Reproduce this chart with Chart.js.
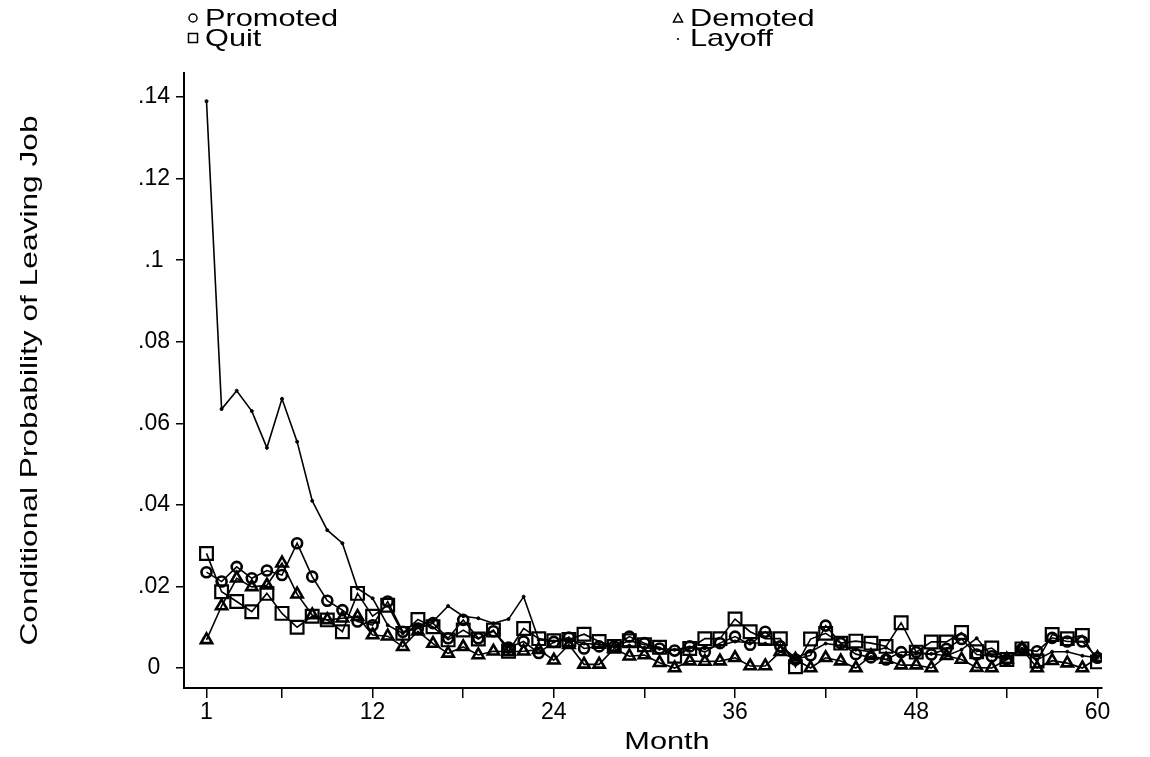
<!DOCTYPE html>
<html><head><meta charset="utf-8">
<script src="https://cdn.jsdelivr.net/npm/chart.js@4"></script>
<style>
html,body{margin:0;padding:0;background:#fff;}
#wrap{position:relative;width:1150px;height:757px;overflow:hidden;}
#c{position:absolute;left:0;top:0;}
.leg{position:absolute;font-family:"Liberation Sans",Arial,sans-serif;font-size:24px;color:#000;line-height:20px;white-space:nowrap;height:20px;}
.leg svg{position:absolute;left:0;top:3px;}
.leg span{position:absolute;left:18px;top:0;transform:scaleX(1.28);transform-origin:0 50%;}
</style></head><body>
<div id="wrap"><canvas id="c" width="1150" height="757"></canvas></div>
<script>
const months = [1,2,3,4,5,6,7,8,9,10,11,12,13,14,15,16,17,18,19,20,21,22,23,24,25,26,27,28,29,30,31,32,33,34,35,36,37,38,39,40,41,42,43,44,45,46,47,48,49,50,51,52,53,54,55,56,57,58,59,60];
const promoted = [.0235,.0212,.0248,.0220,.0239,.0228,.0306,.0224,.0165,.0142,.0114,.0105,.0163,.0089,.0097,.0110,.0073,.0118,.0073,.0090,.0050,.0065,.0037,.0064,.0075,.0048,.0053,.0053,.0077,.0061,.0048,.0043,.0053,.0039,.0061,.0077,.0057,.0089,.0053,.0021,.0031,.0104,.0061,.0034,.0026,.0021,.0039,.0039,.0033,.0047,.0071,.0033,.0029,.0021,.0047,.0041,.0074,.0065,.0065,.0025];
const demoted = [.0069,.0152,.0220,.0199,.0203,.0257,.0181,.0130,.0118,.0122,.0126,.0081,.0078,.0052,.0090,.0060,.0036,.0052,.0032,.0041,.0040,.0041,.0045,.0019,.0057,.0009,.0009,.0048,.0029,.0032,.0013,.0000,.0017,.0016,.0017,.0025,.0005,.0005,.0040,.0021,.0000,.0025,.0017,.0000,.0030,.0021,.0007,.0007,.0000,.0030,.0021,.0001,.0000,.0021,.0047,.0000,.0018,.0012,.0000,.0025];
const quit = [.0281,.0187,.0163,.0138,.0183,.0134,.0100,.0127,.0118,.0089,.0183,.0127,.0154,.0085,.0119,.0101,.0069,.0093,.0071,.0093,.0041,.0097,.0072,.0067,.0070,.0083,.0065,.0053,.0067,.0057,.0051,.0029,.0048,.0072,.0072,.0120,.0089,.0072,.0072,.0003,.0071,.0085,.0061,.0066,.0061,.0053,.0111,.0039,.0064,.0064,.0087,.0040,.0049,.0021,.0047,.0017,.0082,.0072,.0080,.0015];
const layoff = [.139,.0635,.068,.063,.054,.066,.0555,.041,.0338,.0306,.0195,.0171,.0105,.0085,.0105,.0114,.0152,.0127,.0122,.0110,.0120,.0175,.0069,.0065,.0068,.0060,.0058,.0052,.0055,.0050,.0047,.0045,.0050,.0048,.0055,.0065,.0062,.0060,.0055,.0025,.0040,.0060,.0055,.0045,.0040,.0050,.0030,.0035,.0035,.0030,.0045,.0073,.0030,.0025,.0047,.0020,.0040,.0040,.0030,.0025];
const seriesNames = ['Promoted','Demoted','Quit','Layoff'];
const xTickValues = [1,6,12,18,24,30,36,42,48,54,60];
const xTickLabels = ['1','','12','','24','','36','','48','','60'];
const yTickValues = [0,.02,.04,.06,.08,.1,.12,.14];
const yTickLabels = ['0','.02','.04','.06','.08','.1','.12','.14'];
const xTitle = 'Month';
const yTitle = 'Conditional Probability of Leaving Job';

const FONT = '"Liberation Sans", Arial, sans-serif';
const X_TITLE_STRETCH = 1.28, Y_TITLE_STRETCH = 1.32;
const pts = arr => months.map((m,i)=>({x:m,y:arr[i]}));
const base = {borderColor:'#000',borderWidth:1.6,pointBorderColor:'#000',pointBackgroundColor:'rgba(0,0,0,0)',fill:false,tension:0};
const styles = [
  {pointStyle:'circle',pointRadius:5,pointBorderWidth:2.6},
  {pointStyle:'triangle',pointRadius:6.5,pointBorderWidth:2.6},
  {pointStyle:'rect',pointRadius:9,pointBorderWidth:2.2},
  {pointStyle:'circle',pointRadius:1.5,pointBorderWidth:1,pointBackgroundColor:'#000'}
];
const dataArr = [promoted,demoted,quit,layoff];
const datasets = dataArr.map((a,i)=>Object.assign({label:seriesNames[i],data:pts(a)},base,styles[i]));

// stretch axis titles along their text direction (reference font is wide)
const stretchTitles = {
  id:'stretchTitles',
  beforeDraw(chart){
    const sx = chart.scales.x, sy = chart.scales.y;
    if(!sx._stretched){
      const o = sx.drawTitle;
      sx.drawTitle = function(){
        const ctx=this.ctx, cx=(this.left+this.right)/2;
        ctx.save(); ctx.translate(cx+24,0); ctx.scale(X_TITLE_STRETCH,1); ctx.translate(-cx,0);
        o.call(this); ctx.restore();
      };
      sx._stretched = true;
    }
    if(!sy._stretched){
      const o = sy.drawTitle;
      sy.drawTitle = function(){
        const ctx=this.ctx, cy=(this.top+this.bottom)/2;
        ctx.save(); ctx.translate(0,cy); ctx.scale(1,Y_TITLE_STRETCH); ctx.translate(0,-cy);
        o.call(this); ctx.restore();
      };
      sy._stretched = true;
    }
  }
};

new Chart(document.getElementById('c'),{
  type:'line',
  data:{datasets},
  plugins:[stretchTitles],
  options:{
    responsive:false,animation:false,
    layout:{padding:{top:73,right:48,bottom:0,left:0}},
    plugins:{legend:{display:false},tooltip:{enabled:false}},
    scales:{
      x:{type:'linear',min:-0.49,max:60.30,
        afterBuildTicks:s=>{s.ticks=xTickValues.map(v=>({value:v}));},
        afterFit:s=>{s.height=69;},
        ticks:{autoSkip:false,maxRotation:0,padding:1,color:'#000',font:{family:FONT,size:23},
          callback:v=>{const i=xTickValues.indexOf(v);return i>=0?xTickLabels[i]:'';}},
        grid:{drawOnChartArea:false,drawTicks:true,tickLength:10,color:'#000',lineWidth:1.5},
        border:{display:true,color:'#000',width:2},
        title:{display:true,text:xTitle,color:'#000',font:{family:FONT,size:24},padding:{top:0,bottom:0}}
      },
      y:{type:'linear',min:-0.0049,max:0.1459,
        afterBuildTicks:s=>{s.ticks=yTickValues.map(v=>({value:v}));},
        afterFit:s=>{s.width=184;},
        ticks:{crossAlign:'center',padding:6,color:'#000',font:{family:FONT,size:23},
          callback:v=>{const i=yTickValues.findIndex(t=>Math.abs(t-v)<1e-9);return i>=0?yTickLabels[i]:'';}},
        grid:{drawOnChartArea:false,drawTicks:true,tickLength:8,color:'#000',lineWidth:1.5},
        border:{display:true,color:'#000',width:2},
        title:{display:true,text:yTitle,color:'#000',font:{family:FONT,size:24},padding:{top:16,bottom:0}}
      }
    }
  }
});

// legend (HTML text)
const legPos = [[187,8],[672,8],[187,28],[672,28]];
const sym = [
  '<svg width="12" height="14"><circle cx="6" cy="7" r="4" fill="none" stroke="#000" stroke-width="1.5"/></svg>',
  '<svg width="12" height="14"><polygon points="6,2.5 10.5,11 1.5,11" fill="none" stroke="#000" stroke-width="1.5"/></svg>',
  '<svg width="12" height="14"><rect x="1.5" y="2.5" width="9" height="9" fill="none" stroke="#000" stroke-width="1.5"/></svg>',
  '<svg width="12" height="14"><circle cx="6" cy="8" r="1.1" fill="#000"/></svg>'
];
const wrap = document.getElementById('wrap');
seriesNames.forEach((n,i)=>{
  const d=document.createElement('div');d.className='leg';
  d.style.left=legPos[i][0]+'px';d.style.top=legPos[i][1]+'px';
  d.innerHTML=sym[i]+'<span>'+n+'</span>';
  wrap.appendChild(d);
});
</script>
</body></html>
